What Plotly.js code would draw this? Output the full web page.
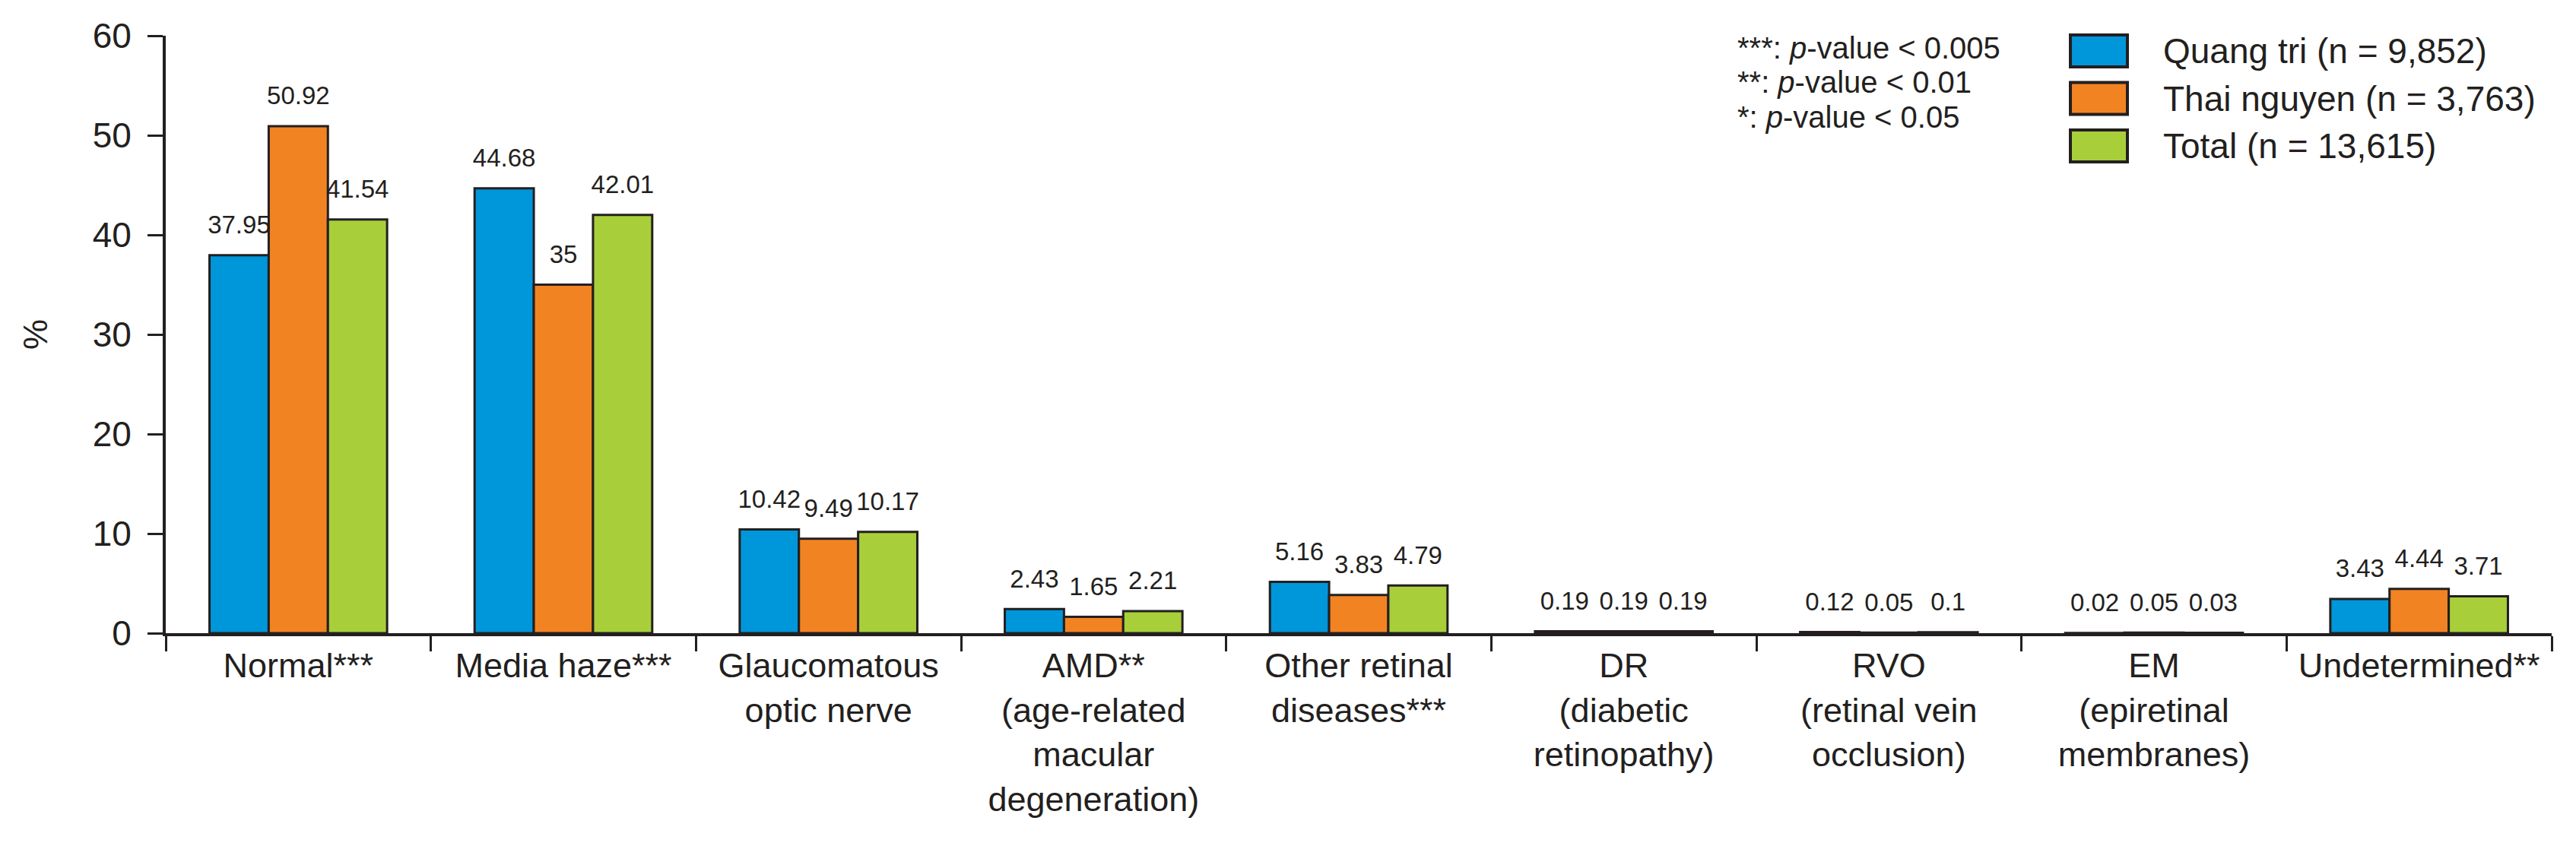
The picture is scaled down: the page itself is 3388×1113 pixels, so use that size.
<!DOCTYPE html>
<html>
<head>
<meta charset="utf-8">
<script src="https://cdn.plot.ly/plotly-3.0.1.min.js"></script>
<style>html,body{margin:0;padding:0;background:#fff;}#chart{width:3388px;height:1113px;}</style>
</head>
<body>
<div id="chart"></div>
<script>
// ---- data ----
const categories = [
  "Normal***",
  "Media haze***",
  "Glaucomatous<br>optic nerve",
  "AMD**<br>(age-related<br>macular<br>degeneration)",
  "Other retinal<br>diseases***",
  "DR<br>(diabetic<br>retinopathy)",
  "RVO<br>(retinal vein<br>occlusion)",
  "EM<br>(epiretinal<br>membranes)",
  "Undetermined**"
];
const seriesNames = ["Quang tri (n = 9,852)", "Thai nguyen (n = 3,763)", "Total (n = 13,615)"];
const quangTri   = [37.95, 44.68, 10.42, 2.43, 5.16, 0.19, 0.12, 0.02, 3.43];
const thaiNguyen = [50.92, 35, 9.49, 1.65, 3.83, 0.19, 0.05, 0.05, 4.44];
const total      = [41.54, 42.01, 10.17, 2.21, 4.79, 0.19, 0.1, 0.03, 3.71];
const footnotes = ["***: <i>p</i>-value &lt; 0.005", "**: <i>p</i>-value &lt; 0.01", "*: <i>p</i>-value &lt; 0.05"];
const yTitle = "%";

// ---- style ----
const colors = ["#0096DA", "#F28322", "#A8CF3A"];
const ink = "#231F20";
const FONT = "Liberation Sans, Arial, Helvetica, sans-serif";
const W = 3388, H = 1113;
const M = {l: 218, r: 32, t: 47, b: 280};
const pw = W - M.l - M.r, ph = H - M.t - M.b;
const px = x => (x - M.l) / pw;
const py = y => (H - M.b - y) / ph;

const allSeries = [quangTri, thaiNguyen, total];
const bars = allSeries.map((vals, i) => ({
  type: "bar",
  name: seriesNames[i],
  x: categories,
  y: vals,
  marker: {color: colors[i], line: {color: ink, width: 3}},
  showlegend: false,
  hoverinfo: "x+y"
}));
// value labels: grouped text points sitting above each bar
const labels = allSeries.map((vals, i) => ({
  type: "scatter",
  mode: "markers+text",
  orientation: "v",
  name: seriesNames[i] + " label",
  x: categories,
  y: vals,
  text: vals.map(v => String(v)),
  textposition: "top center",
  textfont: {family: FONT, size: 33, color: ink},
  marker: {size: 31, opacity: 0, color: colors[i]},
  cliponaxis: false,
  showlegend: false,
  hoverinfo: "skip"
}));

const shapes = [];
const annotations = [];
// legend with large swatches, as in the reference
seriesNames.forEach((name, i) => {
  const top = 46 + i * 62.5;
  shapes.push({type: "rect", xref: "paper", yref: "paper",
    x0: px(2723), x1: px(2798), y0: py(top), y1: py(top + 42),
    fillcolor: colors[i], line: {color: ink, width: 4}});
  annotations.push({xref: "paper", yref: "paper", x: px(2843), y: py(top + 21),
    xanchor: "left", yanchor: "middle", showarrow: false, text: name,
    font: {family: FONT, size: 46, color: ink}});
});
footnotes.forEach((t, i) => {
  annotations.push({xref: "paper", yref: "paper", x: px(2284), y: py(86 + i * 45.5),
    xanchor: "left", yanchor: "bottom", align: "left", showarrow: false,
    text: t, font: {family: FONT, size: 40, color: ink}, borderpad: 0});
});

const layout = {
  width: W, height: H,
  margin: M,
  paper_bgcolor: "#fff", plot_bgcolor: "#fff",
  barmode: "group", bargap: 0.33, bargroupgap: 0,
  scattermode: "group", scattergap: 0.33,
  font: {family: FONT, color: ink, size: 45},
  showlegend: false,
  xaxis: {
    type: "category",
    showline: true, linewidth: 4, linecolor: ink,
    ticks: "outside", tickson: "boundaries", ticklen: 20, tickwidth: 3, tickcolor: ink,
    tickfont: {family: FONT, size: 45, color: ink},
    showgrid: false, zeroline: false
  },
  yaxis: {
    range: [0, 60], dtick: 10, tick0: 0,
    showline: true, linewidth: 4, linecolor: ink,
    ticks: "outside", ticklen: 20, tickwidth: 3, tickcolor: ink,
    tickfont: {family: FONT, size: 46, color: ink},
    ticklabelstandoff: 12,
    showgrid: false, zeroline: false,
    title: {text: yTitle, font: {family: FONT, size: 45, color: ink}, standoff: 46}
  },
  shapes: shapes,
  annotations: annotations
};

Plotly.newPlot("chart", bars.concat(labels), layout, {displayModeBar: false, staticPlot: true});
</script>
</body>
</html>
